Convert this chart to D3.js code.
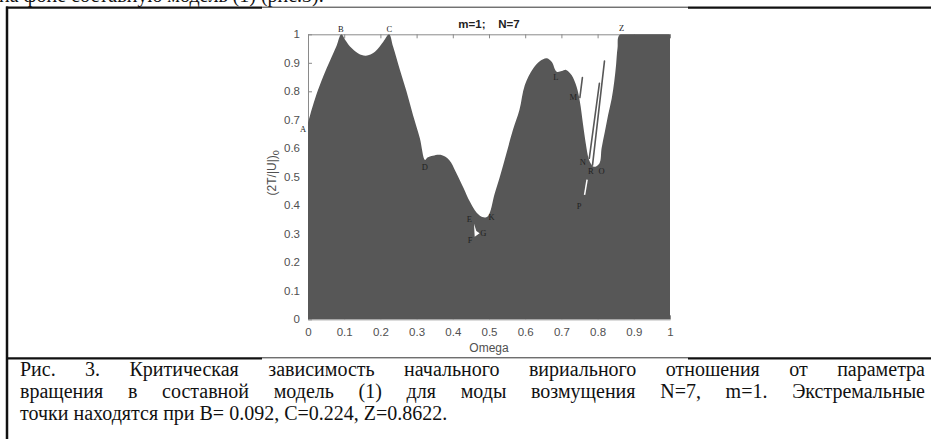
<!DOCTYPE html>
<html><head><meta charset="utf-8">
<script src="https://cdn.jsdelivr.net/npm/d3@7"></script>
<style>html,body{margin:0;padding:0;background:#fff;overflow:hidden}</style>
</head><body><svg id="c" width="931" height="439"></svg>
<script>
// ---- data ----
const boundaryOmega = [0, 0.01, 0.023, 0.042, 0.061, 0.079, 0.092, 0.104, 0.116, 0.139, 0.16, 0.185, 0.208, 0.224,
  0.235, 0.254, 0.272, 0.29, 0.309, 0.323, 0.33, 0.345, 0.366, 0.39, 0.408, 0.43, 0.447, 0.466, 0.484, 0.497,
  0.516, 0.53, 0.548, 0.566, 0.584, 0.599, 0.622, 0.641, 0.659, 0.673, 0.687, 0.701, 0.713, 0.728, 0.742, 0.751,
  0.76, 0.768, 0.775, 0.781, 0.79, 0.805, 0.811, 0.82, 0.829, 0.839, 0.846, 0.851, 0.855, 0.8622, 1.0];
const boundaryValue = [0.689, 0.735, 0.788, 0.852, 0.908, 0.96, 1.0, 0.978, 0.957, 0.933, 0.925, 0.939, 0.974, 1.0,
  0.957, 0.875, 0.8, 0.717, 0.635, 0.559, 0.568, 0.574, 0.577, 0.559, 0.518, 0.46, 0.413, 0.374, 0.358, 0.362,
  0.442, 0.5, 0.582, 0.664, 0.734, 0.822, 0.88, 0.906, 0.916, 0.904, 0.869, 0.871, 0.875, 0.857, 0.816, 0.764,
  0.682, 0.612, 0.565, 0.547, 0.535, 0.547, 0.6, 0.658, 0.717, 0.775, 0.834, 0.892, 0.951, 1.0, 1.0];

const spikeOmegaStart = [0.777, 0.786, 0.751];
const spikeValueStart = [0.565, 0.541, 0.778];
const spikeOmegaEnd = [0.805, 0.819, 0.758];
const spikeValueEnd = [0.828, 0.906, 0.848];

const notchOmega = [0.4585, 0.4605, 0.474, 0.465];
const notchValue = [0.335, 0.29, 0.302, 0.31];
const sliverOmega = [0.771, 0.764];
const sliverValue = [0.49, 0.437];

const pointLabels = ["A", "B", "C", "Z", "D", "E", "F", "G", "K", "L", "M", "N", "R", "O", "P"];
const pointOmega = [-0.0138, 0.091, 0.2246, 0.8666, 0.323, 0.4456, 0.4475, 0.484, 0.507, 0.685, 0.733, 0.759, 0.781, 0.811, 0.749];
const pointValue = [0.668, 1.017, 1.019, 1.021, 0.535, 0.352, 0.278, 0.304, 0.36, 0.851, 0.781, 0.553, 0.52, 0.521, 0.398];

const xTicks = [0, 0.1, 0.2, 0.3, 0.4, 0.5, 0.6, 0.7, 0.8, 0.9, 1];
const xTickLabels = ["0", "0.1", "0.2", "0.3", "0.4", "0.5", "0.6", "0.7", "0.8", "0.9", "1"];
const yTicks = [0, 0.1, 0.2, 0.3, 0.4, 0.5, 0.6, 0.7, 0.8, 0.9, 1];
const yTickLabels = ["0", "0.1", "0.2", "0.3", "0.4", "0.5", "0.6", "0.7", "0.8", "0.9", "1"];

const chartTitle = "m=1;    N=7";
const xTitle = "Omega";
const topText = "на фоне составную модель (1) (рис.3).";
const captionLines = [
  "Рис. 3. Критическая зависимость начального вириального отношения от параметра",
  "вращения в составной модель (1) для моды возмущения N=7, m=1. Экстремальные",
  "точки находятся при B= 0.092, C=0.224, Z=0.8622."
];

// ---- drawing ----
const svg = d3.select("#c");
const W = 931, H = 439;
const px0 = 308, px1 = 670, pyTop = 34.3, pyBot = 319.3;
const x = d3.scaleLinear().domain([0, 1]).range([px0, px1]);
const y = d3.scaleLinear().domain([0, 1]).range([pyBot, pyTop]);

// document frame
const ink = "#111";
svg.append("text").attr("x", -1).attr("y", 2).attr("font-family", "Liberation Serif").attr("font-size", 20)
  .attr("fill", ink).text(topText);
svg.append("line").attr("x1", 7).attr("x2", 7).attr("y1", 6.5).attr("y2", H).attr("stroke", ink).attr("stroke-width", 2.5);
function hline(yy) {
  svg.append("line").attr("x1", 6).attr("x2", 262).attr("y1", yy).attr("y2", yy).attr("stroke", ink).attr("stroke-width", 2.2);
  svg.append("line").attr("x1", 262).attr("x2", 688).attr("y1", yy - 0.5).attr("y2", yy - 0.5).attr("stroke", "#333").attr("stroke-width", 1);
  svg.append("line").attr("x1", 688).attr("x2", W).attr("y1", yy).attr("y2", yy).attr("stroke", ink).attr("stroke-width", 2.2);
}
hline(7.7);
hline(358.3);

// axes (drawn beneath the fill, as in the source)
const axisColor = "#8a8a8a", textColor = "#505050";
const gx = svg.append("g").attr("transform", `translate(0,${pyBot})`)
  .call(d3.axisBottom(x).tickValues(xTicks).tickFormat((d, i) => xTickLabels[i]).tickSizeInner(-4).tickSizeOuter(0).tickPadding(9));
const gy = svg.append("g").attr("transform", `translate(${px0},0)`)
  .call(d3.axisLeft(y).tickValues(yTicks).tickFormat((d, i) => yTickLabels[i]).tickSizeInner(-4).tickSizeOuter(0).tickPadding(8));
const gt = svg.append("g").attr("transform", `translate(0,${pyTop})`)
  .call(d3.axisTop(x).tickValues(xTicks).tickFormat("").tickSizeInner(-4).tickSizeOuter(0));
[gx, gy, gt].forEach(g => {
  g.selectAll("path,line").attr("stroke", axisColor).attr("stroke-width", 1);
  g.selectAll("text").attr("fill", textColor).attr("font-family", "Liberation Sans, Arial").attr("font-size", 11.5);
});

// filled critical region
svg.append("clipPath").attr("id", "plotclip").append("rect")
  .attr("x", px0).attr("y", pyTop).attr("width", px1 - px0).attr("height", pyBot - pyTop);
const fillColor = "#575757";
const pts = boundaryOmega.map((o, i) => [o, boundaryValue[i]]);
const area = d3.area().x(d => x(d[0])).y0(y(0)).y1(d => y(d[1])).curve(d3.curveCatmullRom.alpha(0.5));
svg.append("path").attr("clip-path", "url(#plotclip)").attr("d", area(pts)).attr("fill", fillColor);

// thin dark spikes
spikeOmegaStart.forEach((o, i) => {
  svg.append("line").attr("x1", x(o)).attr("y1", y(spikeValueStart[i]))
    .attr("x2", x(spikeOmegaEnd[i])).attr("y2", y(spikeValueEnd[i]))
    .attr("stroke", fillColor).attr("stroke-width", 1.6).attr("stroke-linecap", "round");
});
// white notches
svg.append("path").attr("d", d3.line().x(d => x(d[0])).y(d => y(d[1]))(notchOmega.map((o, i) => [o, notchValue[i]])) + "Z")
  .attr("fill", "#fff");
svg.append("line").attr("x1", x(sliverOmega[0])).attr("y1", y(sliverValue[0]))
  .attr("x2", x(sliverOmega[1])).attr("y2", y(sliverValue[1])).attr("stroke", "#fff").attr("stroke-width", 1.5);

// point letters
svg.append("g").selectAll("text").data(pointLabels).join("text")
  .attr("x", (d, i) => x(pointOmega[i])).attr("y", (d, i) => y(pointValue[i]))
  .attr("text-anchor", "middle").attr("dominant-baseline", "central")
  .attr("font-family", "Liberation Serif").attr("font-size", 8.5).attr("fill", "#222").text(d => d);

// titles
svg.append("text").attr("x", (px0 + px1) / 2).attr("y", 28).attr("text-anchor", "middle")
  .attr("font-family", "Liberation Sans, Arial").attr("font-weight", "bold").attr("font-size", 11.5)
  .attr("fill", "#222").attr("xml:space", "preserve").style("white-space", "pre").text(chartTitle);
svg.append("text").attr("x", (px0 + px1) / 2).attr("y", 352).attr("text-anchor", "middle")
  .attr("font-family", "Liberation Sans, Arial").attr("font-size", 12).attr("fill", textColor).text(xTitle);
const yl = svg.append("text").attr("transform", `translate(276,${(pyTop + pyBot) / 2 - 4}) rotate(-90)`)
  .attr("text-anchor", "middle").attr("font-family", "Liberation Sans, Arial").attr("font-size", 12).attr("fill", textColor);
yl.append("tspan").text("(2T/|U|)");
yl.append("tspan").attr("dy", 3).attr("font-size", 9).text("0");

// caption, justified like the source page
const capX0 = 20, capX1 = 925, capBase = [376, 398, 420];
captionLines.forEach((line, li) => {
  const words = line.split(" ");
  const nodes = words.map(w => svg.append("text").attr("y", capBase[li]).attr("font-family", "Liberation Serif")
    .attr("font-size", 20).attr("fill", ink).text(w));
  const widths = nodes.map(n => n.node().getComputedTextLength());
  const total = d3.sum(widths);
  let gap = li < 2 ? (capX1 - capX0 - total) / (words.length - 1) : 5;
  let cx = capX0;
  nodes.forEach((n, i) => { n.attr("x", cx); cx += widths[i] + gap; });
});
</script></body></html>
